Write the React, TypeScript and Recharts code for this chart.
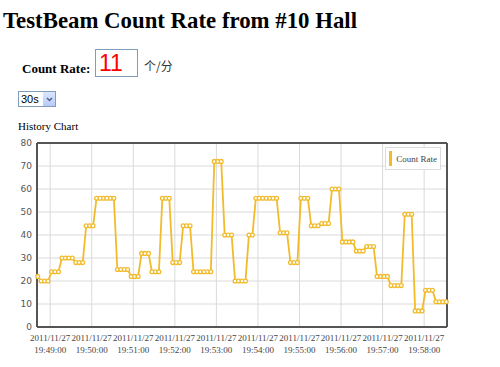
import {
  LineChart,
  Line,
  XAxis,
  YAxis,
  CartesianGrid,
  Legend,
  ReferenceLine,
} from "recharts";

/// chart data (one sample every 5 s)
const DATE = "2011/11/27";
const START_TIME = "19:48:42";
const STEP_SECONDS = 5;
const COUNT_RATE = [
  22, 20, 20, 20, 24, 24, 24, 30, 30, 30, 30, 28, 28, 28, 44, 44, 44,
  56, 56, 56, 56, 56, 56, 25, 25, 25, 25, 22, 22, 22, 32, 32, 32,
  24, 24, 24, 56, 56, 56, 28, 28, 28, 44, 44, 44, 24, 24, 24, 24, 24, 24,
  72, 72, 72, 40, 40, 40, 20, 20, 20, 20, 40, 40,
  56, 56, 56, 56, 56, 56, 56, 41, 41, 41, 28, 28, 28, 56, 56, 56,
  44, 44, 44, 45, 45, 45, 60, 60, 60, 37, 37, 37, 37, 33, 33, 33,
  35, 35, 35, 22, 22, 22, 22, 18, 18, 18, 18, 49, 49, 49, 7, 7, 7,
  16, 16, 16, 11, 11, 11, 11,
];
const TICK_TIMES = [
  "19:49:00", "19:50:00", "19:51:00", "19:52:00", "19:53:00",
  "19:54:00", "19:55:00", "19:56:00", "19:57:00", "19:58:00",
];
const Y_TICKS = [0, 10, 20, 30, 40, 50, 60, 70, 80];
const CURRENT_RATE = 11;
const INTERVAL = "30s";

const LINE_COLOR = "#f1bb2c";

const toSec = (s: string) => {
  const [h, m, sec] = s.split(":").map(Number);
  return h * 3600 + m * 60 + sec;
};
const toTime = (v: number) => {
  const pad = (n: number) => String(n).padStart(2, "0");
  return `${pad(Math.floor(v / 3600))}:${pad(Math.floor((v % 3600) / 60))}:${pad(v % 60)}`;
};

const data = COUNT_RATE.map((rate, i) => ({
  t: toSec(START_TIME) + i * STEP_SECONDS,
  rate,
}));
const xMin = data[0].t - 1;
const xMax = data[data.length - 1].t + 1;

const TimeTick = ({ x, y, payload }: any) => (
  <text
    x={x}
    y={y}
    textAnchor="middle"
    fill="#444"
    fontSize={9}
    fontFamily="'Liberation Serif', serif"
  >
    <tspan x={x} dy={12}>{DATE}</tspan>
    <tspan x={x} dy={12}>{toTime(payload.value)}</tspan>
  </text>
);

const LegendBox = () => (
  <div
    style={{
      border: "1px solid #dcdcdc",
      background: "#fff",
      padding: "3px 3px 3px 3px",
      display: "flex",
      alignItems: "center",
      fontFamily: "'Liberation Serif', serif",
      fontSize: 9,
      color: "#444",
    }}
  >
    <span
      style={{
        display: "inline-block",
        width: 3,
        height: 15,
        background: LINE_COLOR,
        marginRight: 4,
      }}
    />
    Count Rate
  </div>
);

export default function App() {
  return (
    <div style={{ position: "relative", width: 500, height: 367, background: "#fff" }}>
      <style>{`body{margin:0}`}</style>

      {/* page header */}
      <div
        style={{
          position: "absolute",
          left: 3,
          top: 10,
          fontFamily: "'Liberation Serif', serif",
          fontWeight: "bold",
          fontSize: 22.8,
          lineHeight: "22px",
          whiteSpace: "nowrap",
        }}
      >
        TestBeam Count Rate from #10 Hall
      </div>

      <div
        style={{
          position: "absolute",
          left: 22,
          top: 62,
          fontFamily: "'Liberation Serif', serif",
          fontWeight: "bold",
          fontSize: 13,
          lineHeight: "13px",
        }}
      >
        Count Rate:
      </div>
      <div
        style={{
          position: "absolute",
          left: 95,
          top: 49,
          width: 43,
          height: 28,
          boxSizing: "border-box",
          border: "1px solid #7f9db9",
          paddingLeft: 3,
          fontFamily: "'Liberation Sans', Arial, sans-serif",
          fontSize: 23,
          lineHeight: "26px",
          color: "#f00",
        }}
      >
        {CURRENT_RATE}
      </div>
      <div
        style={{
          position: "absolute",
          left: 144,
          top: 59,
          fontFamily: "'Noto Sans CJK SC', sans-serif",
          fontSize: 12,
          lineHeight: "14px",
          color: "#333",
        }}
      >
        个/分
      </div>

      {/* interval select */}
      <div
        style={{
          position: "absolute",
          left: 18,
          top: 91,
          width: 38,
          height: 16,
          boxSizing: "border-box",
          border: "1px solid #7f9db9",
          fontFamily: "'Liberation Sans', Arial, sans-serif",
          fontSize: 11,
          lineHeight: "14px",
          paddingLeft: 2,
        }}
      >
        {INTERVAL}
        <div
          style={{
            position: "absolute",
            right: 0,
            top: 0,
            width: 12,
            height: 14,
            background: "linear-gradient(#dbe6fe, #b7cbf9)",
            display: "flex",
            alignItems: "center",
            justifyContent: "center",
          }}
        >
          <svg width={7} height={5}>
            <polyline points="1,1 3.5,3.5 6,1" fill="none" stroke="#4d6185" strokeWidth={1.5} />
          </svg>
        </div>
      </div>

      <div
        style={{
          position: "absolute",
          left: 18,
          top: 121,
          fontFamily: "'Liberation Serif', serif",
          fontSize: 11,
          lineHeight: "11px",
        }}
      >
        History Chart
      </div>

      {/* history chart */}
      <div style={{ position: "absolute", left: 0, top: 130 }}>
        <LineChart
          width={460}
          height={237}
          data={data}
          margin={{ top: 13, right: 13, bottom: 10, left: 0 }}
        >
          <CartesianGrid stroke="#dadada" />
          <XAxis
            dataKey="t"
            type="number"
            domain={[xMin, xMax]}
            ticks={TICK_TIMES.map(toSec)}
            tick={<TimeTick />}
            tickLine={false}
            tickSize={0}
            height={30}
            axisLine={{ stroke: "#555", strokeWidth: 2 }}
            interval={0}
          />
          <YAxis
            type="number"
            domain={[0, 80]}
            ticks={Y_TICKS}
            width={37}
            tickLine={false}
            tickSize={0}
            tickMargin={5}
            axisLine={{ stroke: "#555", strokeWidth: 2 }}
            tick={{ fill: "#555", fontSize: 9, fontFamily: "'DejaVu Sans', sans-serif" }}
            interval={0}
          />
          <ReferenceLine y={80} stroke="#555" strokeWidth={2} />
          <ReferenceLine x={xMax} stroke="#555" strokeWidth={2} />
          <Legend
            layout="vertical"
            align="center"
            verticalAlign="middle"
            content={<LegendBox />}
            wrapperStyle={{ top: 17, right: 19, width: "auto", height: "auto" }}
          />
          <Line
            type="linear"
            dataKey="rate"
            name="Count Rate"
            stroke={LINE_COLOR}
            strokeWidth={1.8}
            dot={{ r: 1.9, fill: "#fff", stroke: LINE_COLOR, strokeWidth: 1.3 }}
            isAnimationActive={false}
          />
        </LineChart>
      </div>
    </div>
  );
}
